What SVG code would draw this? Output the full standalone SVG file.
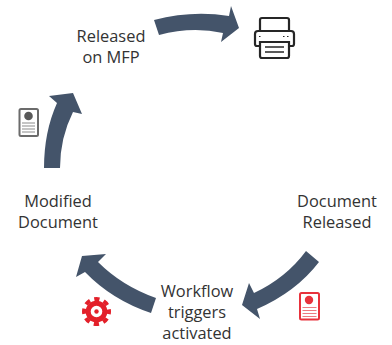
<svg xmlns="http://www.w3.org/2000/svg" width="392" height="345" viewBox="0 0 392 345">
<style>
text{font-family:"Open Sans","Noto Sans","Liberation Sans",sans-serif;font-size:16.4px;fill:#333;text-anchor:middle}
.arrow{fill:#44546a}
.k{fill:none;stroke:#262626}
.gl{fill:none;stroke:#6b6b6b}
.rl{fill:none;stroke:#e8323c}
.gear{fill:none;stroke:#e3202a}
</style>
<rect width="392" height="345" fill="#fff"/>
<g id="connectors">
<path class="arrow" d="M154 20Q192 10 229 16L231 6L239 28L221 42L223 33Q192 26 159 35Z"/>
<path class="arrow" d="M44 168Q44 132 57 103L49 96L73 93L82 114L73 112Q60 138 60 168Z"/>
<path class="arrow" d="M156 298Q122 286 98 262L106 254L82 256L76 277L85 272Q112 300 151 313Z"/>
<path class="arrow" d="M306 251Q286 278 254 293L249 283L242 305L260 319L257 309Q296 292 319 262Z"/>
</g>
<g id="released-on-mfp"><text x="111" y="42">Released</text><text x="111" y="63">on MFP</text></g>
<g id="modified-document"><text x="58" y="207">Modified</text><text x="58" y="228">Document</text></g>
<g id="document-released"><text x="337" y="207">Document</text><text x="337" y="228">Released</text></g>
<g id="workflow-triggers"><text x="197" y="297">Workflow</text><text x="197" y="318">triggers</text><text x="197" y="339">activated</text></g>
<g id="printer">
<path class="k" stroke-width="2.2" d="M260 31V20Q260 18 262 18H287Q289 18 289 20V31"/>
<path class="k" stroke-width="2.2" d="M259 46H257Q255 46 255 44V34Q255 31 258 31H291Q294 31 294 34V44Q294 46 292 46H289"/>
<path class="k" stroke-width="2.2" d="M260 42H289V56Q289 58 287 58H262Q260 58 260 56Z"/>
<path class="k" stroke-width="1.600" d="M265 47H284M265 52H284"/>
<path class="k" stroke-width="1.200" d="M259 36.500H260.500M283 36.500H284.500M287 36.500H288.500"/>
</g>
<g id="gray-document">
<rect class="gl" x="19.500" y="109" width="18.500" height="27" rx="1.500" stroke-width="2"/>
<circle cx="28.500" cy="116" r="4.300" fill="#595959"/>
<path d="M22 123H35M22 126H35M22 129H35M22 132H35" stroke="#8c8c8c" stroke-width="1.200"/>
</g>
<g id="gear">
<circle class="gear" cx="96.500" cy="311.500" r="8.300" stroke-width="5"/>
<circle class="gear" cx="96.500" cy="311.500" r="12.500" stroke-width="4" stroke-dasharray="5.300 4.517" stroke-dashoffset="2.650"/>
<circle cx="96.500" cy="311.500" r="2.200" fill="#e3202a"/>
</g>
<g id="red-document">
<rect class="rl" x="300" y="293" width="19" height="26.500" rx="1.500" stroke-width="2"/>
<circle cx="309" cy="300" r="4.200" fill="#e8323c"/>
<path d="M302.500 307.500H316.500M302.500 310.500H316.500M302.500 313.500H316.500M302.500 316.500H316.500" stroke="#ee7a80" stroke-width="1.200"/>
</g>
</svg>
